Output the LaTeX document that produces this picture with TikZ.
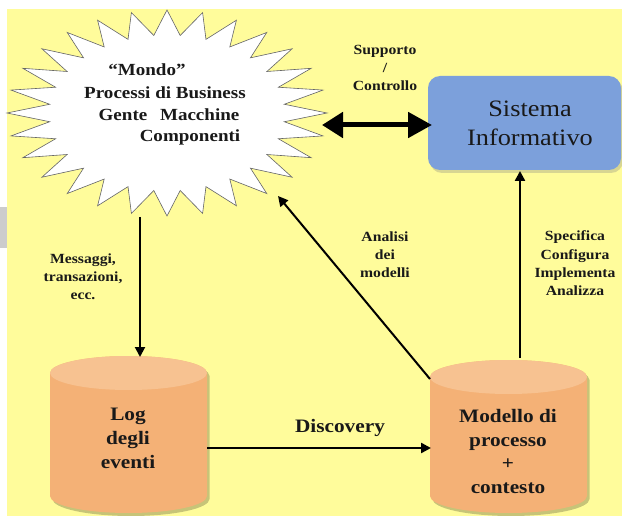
\documentclass[tikz,border=0pt]{standalone}
\usepackage{fontspec}
\setmainfont{Liberation Serif}[FakeStretch=1.12]
\usetikzlibrary{arrows.meta,shadows}
\definecolor{bgyellow}{RGB}{255,252,155}
\definecolor{sisblue}{RGB}{124,160,219}
\definecolor{cylbody}{RGB}{244,177,118}
\definecolor{cyltop}{RGB}{247,194,145}
\definecolor{starshadow}{RGB}{150,160,110}
\definecolor{txt}{RGB}{25,25,25}
\newcommand\mycyl[4]{%
  \pgfmathsetmacro\cylcx{(#1+#2)/2}\pgfmathsetmacro\cylrx{(#2-#1)/2}%
  \fill[black,opacity=.22,xshift=2.5pt,yshift=-3pt] (#1,#3) -- (#1,#4)
     arc[start angle=180,end angle=0,x radius=\cylrx,y radius=17] -- (#2,#3)
     arc[start angle=0,end angle=-180,x radius=\cylrx,y radius=17] -- cycle;
  \fill[cylbody] (#1,#3) -- (#1,#4)
     arc[start angle=180,end angle=0,x radius=\cylrx,y radius=17] -- (#2,#3)
     arc[start angle=0,end angle=-180,x radius=\cylrx,y radius=17] -- cycle;
  \fill[cyltop] (\cylcx,#3) ellipse[x radius=\cylrx,y radius=17];
}
\begin{document}
\begin{tikzpicture}[x=1pt,y=-1pt,
  small/.style={font=\fontsize{14}{18}\selectfont\bfseries,text=txt,anchor=base,inner sep=0pt},
  startext/.style={font=\fontsize{17}{21}\selectfont\bfseries,text=txt,anchor=base,inner sep=0pt},
  cyltext/.style={font=\fontsize{19}{24}\selectfont\bfseries,text=txt,anchor=base,inner sep=0pt},
  sistext/.style={font=\fontsize{23.5}{29}\selectfont,text=txt,anchor=base,inner sep=0pt},
  conn/.style={line width=2pt,draw=black,-{Triangle[length=10pt,width=10pt]}},
]
\useasboundingbox (0,0) rectangle (622,516);
\fill[white] (0,0) rectangle (622,516);
\fill[black!20] (0,207) rectangle (7,248);
\fill[bgyellow] (7,9) rectangle (622,516);

% starburst points
\foreach \i in {0,...,55}{
  \pgfmathsetmacro\rx{139+21*cos(\i*180)}
  \pgfmathsetmacro\ry{90.5+12.5*cos(\i*180)}
  \pgfmathsetmacro\px{167+\rx*cos(\i*6.4285714)}
  \pgfmathsetmacro\py{113+\ry*sin(\i*6.4285714)}
  \coordinate (s\i) at (\px,\py);
}
\fill[starshadow,opacity=.45,xshift=2.5pt,yshift=-3pt]
  (s0) \foreach \i in {1,...,55}{ -- (s\i)} -- cycle;
\draw[fill=white,draw=black!60,line width=0.6pt]
  (s0) \foreach \i in {1,...,55}{ -- (s\i)} -- cycle;
\node[startext] (mondo1) at (147,76) {“Mondo”};
\node[startext] (mondo2) at (165,99) {Processi di Business};
\node[startext] (mondo3) at (169,121) {Gente\hspace{0.75em}Macchine};
\node[startext] (mondo4) at (190,142) {Componenti};

% sistema informativo
\node[fill=sisblue,rounded corners=12pt,minimum width=193pt,minimum height=94pt,inner sep=0pt,
  drop shadow={shadow xshift=2pt,shadow yshift=-3pt,opacity=.3}] (sis) at (524.5,123) {};
\node[sistext] (sis1) at (530,117) {Sistema};
\node[sistext] (sis2) at (530,146) {Informativo};

% cylinders
\mycyl{50}{207}{373}{496}
\mycyl{430}{587}{377}{496}
\node[inner sep=0pt,minimum width=157pt,minimum height=157pt] (log) at (128.5,434.5) {};
\node[inner sep=0pt,minimum width=157pt,minimum height=153pt] (mod) at (508.5,436.5) {};
\node[cyltext] (log1) at (128,420) {Log};
\node[cyltext] (log2) at (128,444) {degli};
\node[cyltext] (log3) at (128,468) {eventi};
\node[cyltext] (mod1) at (508,422) {Modello di};
\node[cyltext] (mod2) at (508,446) {processo};
\node[cyltext] (mod3) at (508,469) {+};
\node[cyltext] (mod4) at (508,493) {contesto};

% connector end points
\coordinate (mondoS) at (140,217);
\coordinate (mondoE) at (322,125);
\coordinate (mondoSE) at (278,196);
\coordinate (logN) at (140,357);
\coordinate (logE) at (207,448);
\coordinate (modW) at (431,448);
\coordinate (modNW) at (430,379);
\coordinate (modN) at (520,358);
\coordinate (sisW) at (432,125);
\coordinate (sisS) at (520,171);

\draw[conn] (mondoS) -- (logN);
\draw[conn,line width=2.4pt] (logE) -- (modW);
\draw[conn] (modNW) -- (mondoSE);
\draw[conn,line width=2.4pt] (modN) -- (sisS);
\draw[line width=5pt,{Triangle[length=21pt,width=25pt]}-{Triangle[length=24pt,width=25pt]}] (mondoE) -- (sisW);

% labels
\node[small] (sup1) at (385,55) {Supporto};
\node[small] (sup2) at (385,73) {/};
\node[small] (sup3) at (385,91) {Controllo};
\node[small] (msg1) at (83,264) {Messaggi,};
\node[small] (msg2) at (83,282) {transazioni,};
\node[small] (msg3) at (83,300) {ecc.};
\node[small] (an1) at (385,242) {Analisi};
\node[small] (an2) at (385,259.5) {dei};
\node[small] (an3) at (385,277) {modelli};
\node[small] (sp1) at (575,241) {Specifica};
\node[small] (sp2) at (575,259) {Configura};
\node[small] (sp3) at (575,277) {Implementa};
\node[small] (sp4) at (575,295) {Analizza};
\node[cyltext] (disc) at (340,432) {Discovery};
\end{tikzpicture}
\end{document}
